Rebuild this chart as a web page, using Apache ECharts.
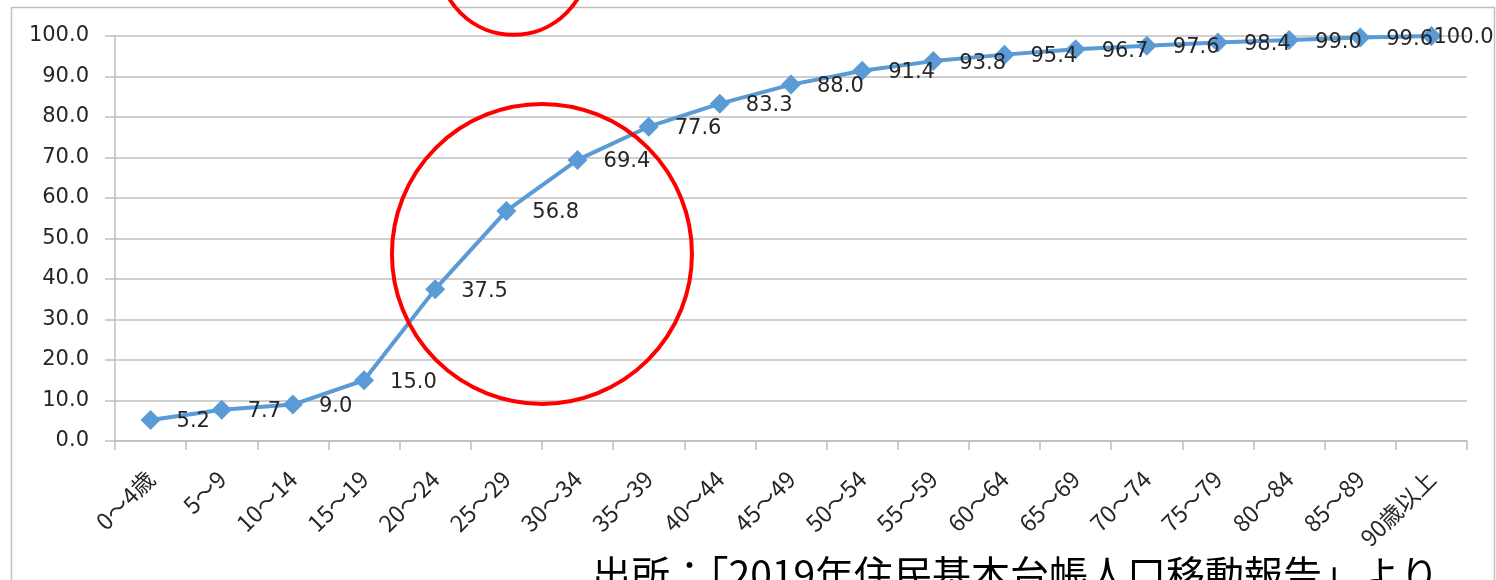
<!DOCTYPE html>
<html>
<head>
<meta charset="utf-8">
<script src="https://cdn.jsdelivr.net/npm/echarts@6/dist/echarts.min.js"></script>
<style>
  html, body { margin: 0; padding: 0; background: #fff; }
  #chart { width: 1496px; height: 580px; }
</style>
</head>
<body>
<div id="chart"></div>
<script>
// Age groups and cumulative share of movers (%)
const ageGroups = ['0〜4歳', '5〜9', '10〜14', '15〜19', '20〜24', '25〜29', '30〜34', '35〜39',
  '40〜44', '45〜49', '50〜54', '55〜59', '60〜64', '65〜69', '70〜74', '75〜79', '80〜84',
  '85〜89', '90歳以上'];
const cumulativeShare = [5.2, 7.7, 9.0, 15.0, 37.5, 56.8, 69.4, 77.6, 83.3, 88.0, 91.4, 93.8,
  95.4, 96.7, 97.6, 98.4, 99.0, 99.6, 100.0];
const sourceNote = '出所：「2019年住民基本台帳人口移動報告」より';

const numFont = 'DejaVu Sans, "Noto Sans CJK JP", sans-serif';
const cjkFont = '"Noto Sans CJK JP", sans-serif';
const gray = '#bfbfbf';

// The last label would run off the right edge, so it is pulled back over its marker
const seriesData = cumulativeShare.map((v, i) => (
  i === cumulativeShare.length - 1 ? { value: v, label: { offset: [-24, 2] } } : v
));

const chart = echarts.init(document.getElementById('chart'), null, { renderer: 'canvas' });

chart.setOption({
  animation: false,
  backgroundColor: '#fff',
  grid: { left: 115, right: 29, top: 36, bottom: 139, containLabel: false },
  xAxis: {
    type: 'category',
    data: ageGroups,
    boundaryGap: true,
    axisLine: { lineStyle: { color: gray, width: 1.5 } },
    axisTick: { show: true, length: 9, lineStyle: { color: gray, width: 1.5 } },
    axisLabel: {
      rotate: 45,
      margin: 34,
      interval: 0,
      color: '#262626',
      fontSize: 23,
      fontFamily: cjkFont
    },
    splitLine: { show: false }
  },
  yAxis: {
    type: 'value',
    min: 0,
    max: 100,
    interval: 10,
    axisLine: { show: true, lineStyle: { color: gray, width: 1.5 } },
    axisTick: { show: true, length: 10, lineStyle: { color: gray, width: 1.5 } },
    axisLabel: {
      margin: 26,
      color: '#262626',
      fontSize: 21,
      fontFamily: numFont,
      formatter: v => v.toFixed(1)
    },
    splitLine: { show: true, lineStyle: { color: gray, width: 1.5 } }
  },
  series: [{
    type: 'line',
    data: seriesData,
    symbol: 'diamond',
    symbolSize: 20,
    lineStyle: { color: '#5B9BD5', width: 4 },
    itemStyle: { color: '#5B9BD5' },
    label: {
      show: true,
      position: 'right',
      distance: 16,
      offset: [0, 2],
      color: '#262626',
      fontSize: 21,
      fontFamily: numFont,
      formatter: p => p.value.toFixed(1)
    },
    z: 3
  }]
});

// Pixel position at a fractional category index and a value
function toPixel(catPos, value) {
  const i0 = Math.floor(catPos);
  const a = chart.convertToPixel({ gridIndex: 0 }, [i0, value]);
  const b = chart.convertToPixel({ gridIndex: 0 }, [i0 + 1, value]);
  const t = catPos - i0;
  return [a[0] + (b[0] - a[0]) * t, a[1]];
}

const bigCenter = toPixel(5.5, 46.2);
const topCenter = toPixel(5.1, 118.8);

chart.setOption({
  graphic: [
    {
      type: 'rect',
      shape: { x: 11.5, y: 7.5, width: 1483, height: 640 },
      style: { fill: null, stroke: gray, lineWidth: 1.5 },
      z: -1, silent: true
    },
    {
      type: 'circle',
      shape: { cx: bigCenter[0], cy: bigCenter[1], r: 150 },
      style: { fill: null, stroke: '#FF0000', lineWidth: 4 },
      z: 10, silent: true
    },
    {
      type: 'circle',
      shape: { cx: topCenter[0], cy: topCenter[1], r: 75 },
      style: { fill: null, stroke: '#FF0000', lineWidth: 4 },
      z: 10, silent: true
    },
    {
      type: 'text',
      left: 592,
      top: 555,
      style: {
        text: sourceNote,
        fontSize: 39,
        fontFamily: cjkFont,
        fill: '#000'
      },
      z: 10, silent: true
    }
  ]
});
</script>
</body>
</html>
